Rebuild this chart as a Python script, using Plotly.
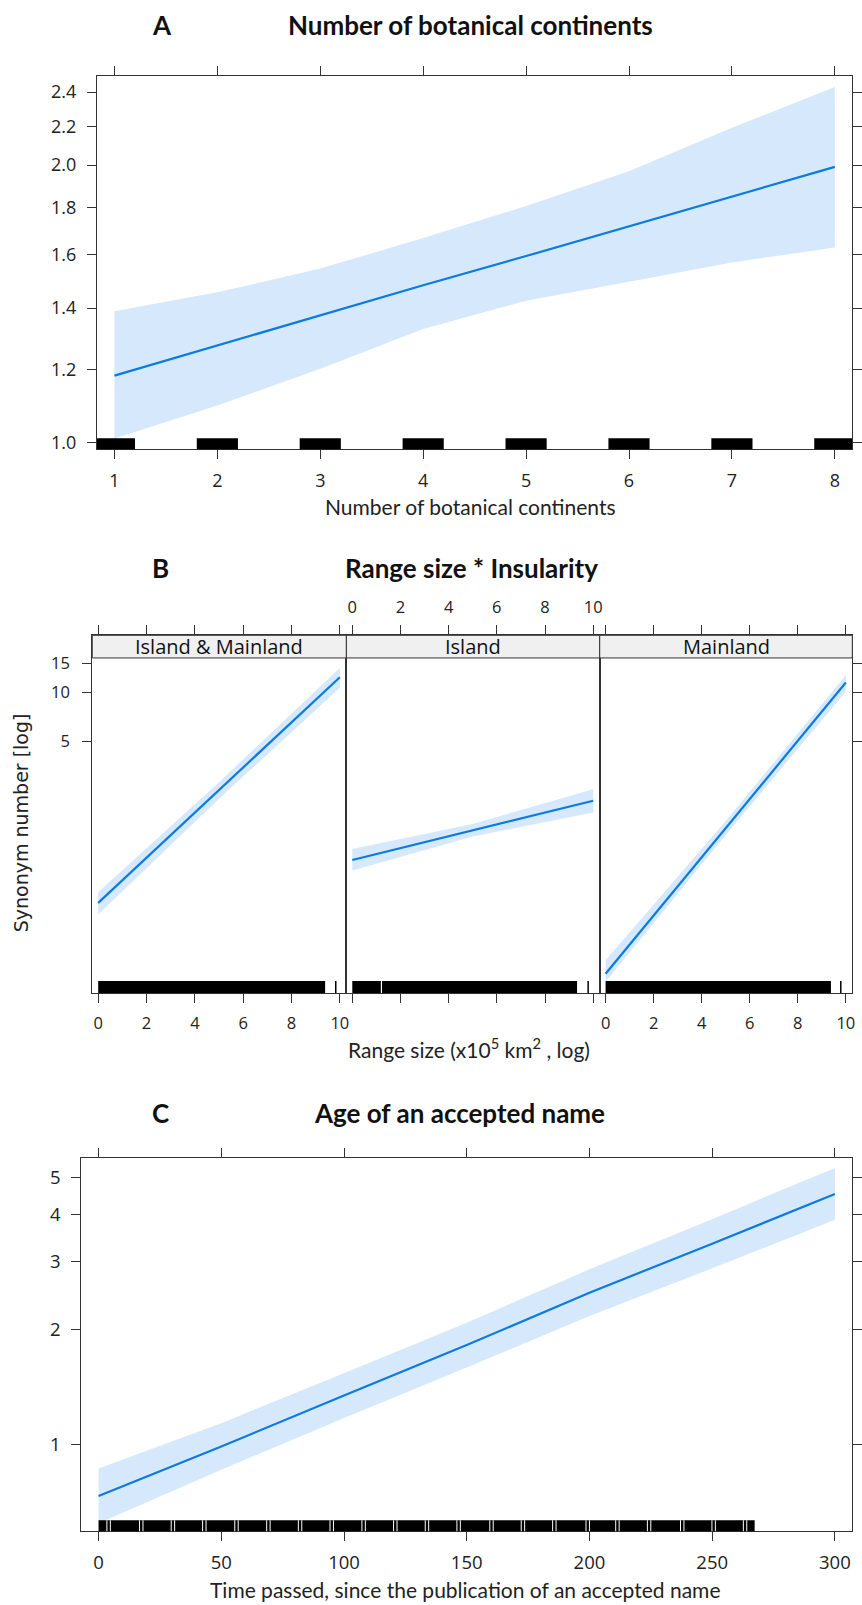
import plotly.graph_objects as go

W, H = 862, 1605

# ---------------- data ----------------
# Panel A: number of botanical continents
cont_x = [1, 2, 3, 4, 5, 6, 7, 8]
cont_fit = [1.183, 1.276, 1.374, 1.482, 1.594, 1.716, 1.849, 1.991]
cont_upper = [1.389, 1.456, 1.545, 1.667, 1.806, 1.970, 2.195, 2.430]
cont_lower = [1.011, 1.098, 1.203, 1.329, 1.426, 1.495, 1.569, 1.628]
cont_rug = [1, 2, 3, 4, 5, 6, 7, 8]
cont_ticks_y = [1.0, 1.2, 1.4, 1.6, 1.8, 2.0, 2.2, 2.4]

# Panel B: range size * insularity
insularity = ["Island & Mainland", "Island", "Mainland"]
range_x = [0, 5, 10]
fit_island_mainland = [0.509, 2.49, 12.35]
upper_island_mainland = [0.592, 2.80, 14.08]
lower_island_mainland = [0.4325, 2.215, 10.63]
fit_island = [0.933, 1.418, 2.154]
upper_island = [1.09, 1.55, 2.537]
lower_island = [0.804, 1.30, 1.827]
fit_mainland = [0.187, 1.47, 11.45]
upper_mainland = [0.226, 1.62, 12.7]
lower_mainland = [0.167, 1.33, 10.1]
range_rug_dense_end = [9.39, 9.33, 9.38]
range_rug_single = [9.83, 9.79, 9.79]
island_rug_gaps = [1.21]
range_ticks_x = [0, 2, 4, 6, 8, 10]
range_ticks_y = [5, 10, 15]

# Panel C: age of an accepted name
age_x = [0, 50, 100, 150, 200, 250, 300]
age_fit = [0.733, 0.988, 1.342, 1.819, 2.493, 3.346, 4.517]
age_upper = [0.865, 1.137, 1.536, 2.081, 2.869, 3.881, 5.280]
age_lower = [0.622, 0.859, 1.172, 1.589, 2.168, 2.886, 3.865]
age_rug_end = 267.3
age_rug_gaps = [4.1, 17.4, 30.3, 43.1, 56.2, 69.2, 82.1, 95.0, 108.0, 120.9,
                133.8, 146.7, 160.1, 172.9, 185.7, 199.3, 211.4, 224.3, 237.8,
                250.6, 263.4]
age_ticks_x = [0, 50, 100, 150, 200, 250, 300]
age_ticks_y = [1, 2, 3, 4, 5]

# ---------------- style ----------------
LINE = "#0b7bdf"
BAND = "rgb(213,232,252)"
AX = "#333333"
TICKFONT = "Open Sans, Liberation Sans, sans-serif"
TITLEFONT = "Lato, Open Sans, sans-serif"


def px(x):
    return x / W


def py(y):
    return 1 - y / H


fig = go.Figure()


def add_effect(xs, fit, up, lo, xa, ya):
    fig.add_trace(go.Scatter(
        x=list(xs) + list(xs)[::-1], y=list(up) + list(lo)[::-1],
        fill="toself", fillcolor=BAND, line=dict(width=0), mode="lines",
        hoverinfo="skip", showlegend=False, xaxis=xa, yaxis=ya))
    fig.add_trace(go.Scatter(
        x=xs, y=fit, mode="lines", line=dict(color=LINE, width=2.2),
        showlegend=False, xaxis=xa, yaxis=ya))


# Panel A
add_effect(cont_x, cont_fit, cont_upper, cont_lower, "x", "y")
# Panel B
add_effect(range_x, fit_island_mainland, upper_island_mainland, lower_island_mainland, "x2", "y2")
add_effect(range_x, fit_island, upper_island, lower_island, "x3", "y3")
add_effect(range_x, fit_mainland, upper_mainland, lower_mainland, "x4", "y4")
# Panel C
add_effect(age_x, age_fit, age_upper, age_lower, "x5", "y5")

common_axis = dict(showline=True, linecolor=AX, linewidth=1, ticks="outside",
                   ticklen=9, tickcolor=AX, tickwidth=1, showgrid=False,
                   zeroline=False, tickfont=dict(family=TICKFONT, size=18, color="#222"))

A_xrange = [0.829, 8.170]
B_xrange = [-0.245, 10.27]
C_xrange = [-7.02, 307.1]

layout = dict(
    width=W, height=H, margin=dict(l=0, r=0, t=0, b=0),
    paper_bgcolor="white", plot_bgcolor="white", showlegend=False,
    xaxis=dict(common_axis, domain=[px(97.3), px(856.3)], range=A_xrange,
               tickvals=cont_x, mirror="ticks", anchor="y", ticklabelstandoff=6),
    yaxis=dict(common_axis, domain=[py(450.7), py(76.7)], type="log",
               range=[-0.0069, 0.3971], tickvals=cont_ticks_y,
               ticktext=["%.1f" % v for v in cont_ticks_y], mirror="ticks",
               anchor="x", ticklabelstandoff=7),
)

b_domains = [[px(92.7), px(348)], [px(348), px(602.5)], [px(602.5), px(856.3)]]
b_ydom = [py(996), py(637.3)]
b_yrange = [-0.8456, 1.3486]
for i in range(3):
    xn = "xaxis%d" % (i + 2)
    yn = "yaxis%d" % (i + 2)
    xa = dict(common_axis, domain=b_domains[i], range=B_xrange, tickvals=range_ticks_x,
              mirror="ticks", anchor="y%d" % (i + 2), ticklabelstandoff=6)
    xa["tickfont"] = dict(family=TICKFONT, size=16.5, color="#222")
    if i == 1:
        xa["side"] = "top"
    ya = dict(common_axis, domain=b_ydom, type="log", range=b_yrange,
              tickvals=range_ticks_y, anchor="x%d" % (i + 2), mirror=True)
    ya["tickfont"] = dict(family=TICKFONT, size=16.5, color="#222")
    if i == 0:
        ya["ticklabelstandoff"] = 9
    elif i == 1:
        ya["ticks"] = ""
        ya["showticklabels"] = False
    else:
        ya["side"] = "right"
        ya["showticklabels"] = False
    layout[xn] = xa
    layout[yn] = ya

layout["xaxis5"] = dict(common_axis, domain=[px(81.7), px(856.3)], range=C_xrange,
                        tickvals=age_ticks_x, mirror="ticks", anchor="y5",
                        ticklabelstandoff=6)
layout["xaxis5"]["tickfont"] = dict(family=TICKFONT, size=18.5, color="#222")
layout["yaxis5"] = dict(common_axis, domain=[py(1536), py(1161.7)], type="log",
                        range=[-0.2267, 0.7485], tickvals=age_ticks_y,
                        mirror="ticks", anchor="x5", ticklabelstandoff=7)
layout["yaxis5"]["tickfont"] = dict(family=TICKFONT, size=18.5, color="#222")

fig.update_layout(**layout)

shapes = []
# rug A (jittered integer values -> blocks)
A_RUG_H = 11 / (450.7 - 76.7)
for v in cont_rug:
    shapes.append(dict(type="rect", xref="x", yref="y domain",
                       x0=max(v - 0.2, A_xrange[0]), x1=min(v + 0.2, A_xrange[1]),
                       y0=0, y1=A_RUG_H, fillcolor="black", line=dict(width=0)))

# rug B
B_RUG_H = 12 / (996 - 637.3)
for i in range(3):
    xr = "x%d" % (i + 2)
    yr = "y%d domain" % (i + 2)
    shapes.append(dict(type="rect", xref=xr, yref=yr, x0=0, x1=range_rug_dense_end[i],
                       y0=0, y1=B_RUG_H, fillcolor="black", line=dict(width=0)))
    shapes.append(dict(type="line", xref=xr, yref=yr, x0=range_rug_single[i],
                       x1=range_rug_single[i], y0=0, y1=B_RUG_H,
                       line=dict(color="black", width=1.5)))
    if insularity[i] == "Island":
        for g in island_rug_gaps:
            shapes.append(dict(type="line", xref=xr, yref=yr, x0=g, x1=g,
                               y0=0, y1=B_RUG_H, line=dict(color="white", width=1.2)))

# strips B
for i in range(3):
    shapes.append(dict(type="rect", xref="paper", yref="paper",
                       x0=b_domains[i][0], x1=b_domains[i][1],
                       y0=py(660), y1=py(637.3), fillcolor="#f0f0f0",
                       line=dict(color=AX, width=1)))

# rug C
C_RUG_H = 11 / (1536 - 1161.7)
shapes.append(dict(type="rect", xref="x5", yref="y5 domain", x0=0, x1=age_rug_end,
                   y0=0, y1=C_RUG_H, fillcolor="black", line=dict(width=0)))
for g in age_rug_gaps:
    for d in (-0.7, 0.7):
        shapes.append(dict(type="line", xref="x5", yref="y5 domain", x0=g + d, x1=g + d,
                           y0=0, y1=C_RUG_H, line=dict(color="white", width=1)))

fig.update_layout(shapes=shapes)

ann = []


def text(x, y, s, size, family, bold=False, angle=0, color="#111"):
    ann.append(dict(x=px(x), y=py(y), xref="paper", yref="paper", text=s,
                    showarrow=False, xanchor="center", yanchor="middle",
                    textangle=angle,
                    font=dict(family=family, size=size, color=color,
                              weight="bold" if bold else "normal")))


# panel titles
text(163, 25, "A", 26, TITLEFONT, bold=True)
text(473, 25, "Number of botanical continents", 26, TITLEFONT, bold=True)
text(161, 570, "B", 26, TITLEFONT, bold=True)
text(474, 570, "Range size * Insularity", 26, TITLEFONT, bold=True)
text(161, 1116, "C", 26, TITLEFONT, bold=True)
text(462, 1116, "Age of an accepted name", 26, TITLEFONT, bold=True)

# axis titles
text(472.5, 508, "Number of botanical continents", 21, TITLEFONT, color="#222")
text(471.5, 1051, "Range size (x10<sup>5</sup> km<sup>2</sup> , log)", 21, TITLEFONT, color="#222")
text(467, 1594, "Time passed, since the publication of an accepted name", 21, TITLEFONT, color="#222")
text(22, 825, "Synonym number [log]", 19, "DejaVu Sans, sans-serif", angle=-90, color="#222")

# strip labels
for i, name in enumerate(insularity):
    cx = (b_domains[i][0] + b_domains[i][1]) / 2 * W
    text(cx, 649, name, 20, TICKFONT, color="#111")

fig.update_layout(annotations=ann)

fig.write_html("out.html")
